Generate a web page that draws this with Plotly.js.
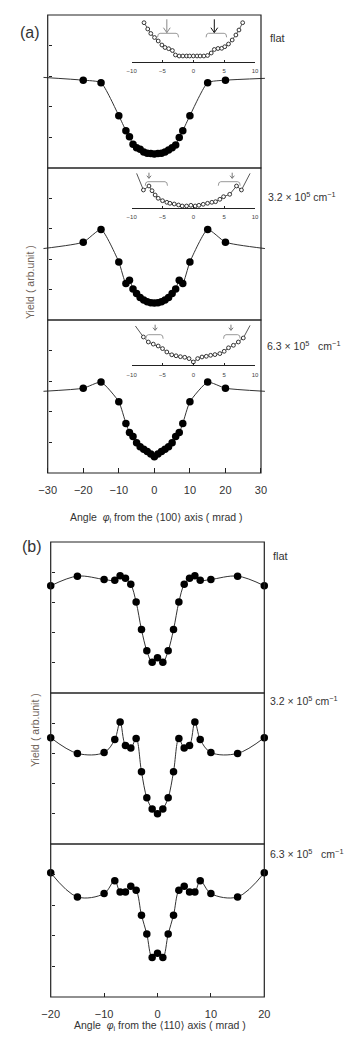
<!DOCTYPE html>
<html><head><meta charset="utf-8">
<script src="https://cdn.plot.ly/plotly-3.0.1.min.js"></script>
<style>html,body{margin:0;padding:0;background:#fff}#chart{width:348px;height:1044px}</style>
</head><body><div id="chart"></div>
<script>
// ---------- DATA ----------
// Panel (a): yield vs angle from <100> axis (mrad)
const aX = [-20,-15,-10,-8,-7,-6,-5,-4,-3,-2,-1,0,1,2,3,4,5,6,7,8,10,15,20];
const aFlatY = [2.87,2.79,1.71,1.22,1.02,0.78,0.66,0.61,0.52,0.48,0.47,0.46,0.47,0.48,0.52,0.59,0.66,0.75,1.0,1.22,1.71,2.79,2.87];
const a32Y   = [2.56,2.98,1.91,1.20,1.31,1.02,0.87,0.74,0.66,0.60,0.57,0.56,0.57,0.60,0.66,0.74,0.87,1.02,1.31,1.20,1.91,2.98,2.56];
const a63Y   = [2.77,2.97,2.33,1.62,1.32,1.19,0.99,0.86,0.78,0.70,0.62,0.53,0.62,0.70,0.78,0.86,0.99,1.19,1.32,1.62,2.33,2.97,2.77];
const aEndX = [-31.2, 31.1];
const aFlatEndY = [2.96, 2.93];
const a32EndY = [2.35, 2.35];
const a63EndY = [2.67, 2.67];

// Panel (b): yield vs angle from <110> axis (mrad)
const bX = [-20,-15,-10,-8,-7,-6,-5,-4,-3,-2,-1,0,1,2,3,4,5,6,7,8,10,15,20];
const bFlatY = [3.55,3.87,3.76,3.73,3.88,3.80,3.60,3.01,2.10,1.40,1.02,1.17,1.02,1.40,2.10,3.01,3.60,3.80,3.88,3.73,3.76,3.87,3.55];
const b32Y   = [3.52,3.00,3.03,3.46,4.04,3.26,3.18,3.49,2.39,1.53,1.16,1.00,1.16,1.53,2.39,3.49,3.18,3.26,4.04,3.46,3.03,3.00,3.52];
const b63Y   = [4.06,3.27,3.38,3.80,3.43,3.43,3.62,3.49,2.67,2.06,1.29,1.43,1.29,2.06,2.67,3.49,3.62,3.43,3.43,3.80,3.38,3.27,4.06];

// Insets of panel (a)
const in1X = [-8.0,-7.4,-6.9,-6.3,-5.7,-5.1,-4.6,-4.0,-3.4,-2.9,-2.3,-1.7,-1.1,-0.6,0,0.6,1.1,1.7,2.3,2.9,3.4,4.0,4.6,5.1,5.7,6.3,6.9,7.4,8.0];
const in1Y = [39,32.7,28.2,24.2,20.7,16.7,14.2,13,11.2,6.7,5.7,5.7,5.7,5.7,5.7,5.7,5.7,5.7,6.2,8.7,12.2,13.2,13.4,15,17.7,21.7,26.7,31.7,39];
const in2X = [-8.1,-7.2,-6.7,-6.2,-5.7,-5.0,-4.3,-3.8,-3.1,-2.4,-1.8,-1.1,-0.4,0.3,0.9,1.6,2.3,3.0,3.6,4.3,4.9,5.9,7.0,7.8];
const in2Y = [17.7,21.7,17,12.7,9.4,7,5.4,4.4,3.7,2.7,1.7,1.7,2.4,1.7,2.4,3.4,4.4,5.4,6,8.4,11,13.4,21.7,17.7];
const in2EndX = [-9.2, 9.2];
const in2EndY = [34.3, 34.3];
const in3X = [-8.1,-7.3,-6.5,-5.7,-5.0,-4.3,-3.5,-2.8,-2.1,-1.4,-0.7,0,0.7,1.4,2.1,2.8,3.5,4.3,5.0,5.7,6.5,7.3,8.1];
const in3Y = [28.3,23.3,21.2,19.3,16.7,13.3,10.5,9.5,8.6,8,6.7,3.3,6.7,8.3,9,10,10.7,11.7,14,17.5,20,23.3,27.3];
const in3EndX = [-9.4, 9.2];
const in3EndY = [39.3, 39.9];
const insetTicks = [-10,-5,0,5,10];

// Arrow and bracket positions in the insets (inset x units)
const in1Arrows = [-4.3, 3.4];
const in1Brackets = [[-5.8,-2.4],[2.06,5.4]];
const in2Arrows = [-7.2, 6.3];
const in2Brackets = [[-7.8,-4.2],[4.05,7.6]];
const in3Arrows = [-6.2, 6.1];
const in3Brackets = [[-7.7,-4.9],[4.9,7.6]];

const aTicks = [-30,-20,-10,0,10,20,30];
const bTicks = [-20,-10,0,10,20];
const yTicks = [1,2,3,4];
const labels = ['flat','3.2 × 10<sup>5</sup> cm<sup>−1</sup>','6.3 × 10<sup>5</sup>   cm<sup>−1</sup>'];
const LB = '<span style="font-family:DejaVu Sans">⟨</span>';
const RB = '<span style="font-family:DejaVu Sans">⟩</span>';
const xTitles = ['Angle  <i>φ</i><sub>i</sub> from the ' + LB + '100' + RB + ' axis ( mrad )',
                 'Angle  <i>φ</i><sub>i</sub> from the ' + LB + '110' + RB + ' axis ( mrad )'];
const yTitle = 'Yield ( arb.unit )';

// ---------- LAYOUT HELPERS ----------
const W = 348, H = 1044;
const px = p => p / W;
const py = p => 1 - p / H;
const FONT = 'Liberation Sans, Arial, sans-serif';
const INK = '#222';

const traces = [];
function mainTraces(xs, ys, endX, endY, xa, ya, smooth) {
  let lx = xs, ly = ys;
  if (endX) { lx = [endX[0]].concat(xs, [endX[1]]); ly = [endY[0]].concat(ys, [endY[1]]); }
  traces.push({x: lx, y: ly, xaxis: xa, yaxis: ya, mode: 'lines', line: {color: '#333', width: 1, shape: 'spline', smoothing: smooth}, hoverinfo: 'skip', showlegend: false});
  traces.push({x: xs, y: ys, xaxis: xa, yaxis: ya, mode: 'markers', marker: {color: '#000', size: 7.5}, cliponaxis: false, showlegend: false});
}
mainTraces(aX, aFlatY, aEndX, aFlatEndY, 'x', 'y', 0.5);
mainTraces(aX, a32Y, aEndX, a32EndY, 'x', 'y2', 0.5);
mainTraces(aX, a63Y, aEndX, a63EndY, 'x', 'y3', 0.5);
mainTraces(bX, bFlatY, null, null, 'x2', 'y4', 1);
mainTraces(bX, b32Y, null, null, 'x2', 'y5', 1);
mainTraces(bX, b63Y, null, null, 'x2', 'y6', 1);

function insetTraces(xs, ys, endX, endY, xa, ya) {
  let lx = xs, ly = ys;
  if (endX) { lx = [endX[0]].concat(xs, [endX[1]]); ly = [endY[0]].concat(ys, [endY[1]]); }
  traces.push({x: lx, y: ly, xaxis: xa, yaxis: ya, mode: 'lines', line: {color: '#444', width: 0.9}, hoverinfo: 'skip', showlegend: false});
  traces.push({x: xs, y: ys, xaxis: xa, yaxis: ya, mode: 'markers', marker: {color: '#fff', size: 3.8, line: {color: '#333', width: 1}}, cliponaxis: false, showlegend: false});
}
insetTraces(in1X, in1Y, null, null, 'x3', 'y7');
insetTraces(in2X, in2Y, in2EndX, in2EndY, 'x4', 'y8');
insetTraces(in3X, in3Y, in3EndX, in3EndY, 'x5', 'y9');

// panel geometry (pixels)
const aL = 47.7, aR = 261, a0 = 154.35, aScale = 3.555;
const aPanels = [[15,168],[168,320],[320,473]];
const bL = 50.7, bR = 264.3;
const bPanels = [[542,693],[693,844],[844,997]];
const insetL = 131.7, insetR = 255;
const insets = [[17,61.7],[170,207.7],[322,365.3]];

const layout = {
  width: W, height: H, margin: {l:0, r:0, t:0, b:0},
  paper_bgcolor: '#fff', plot_bgcolor: 'rgba(0,0,0,0)',
  font: {family: FONT, color: '#333'},
  showlegend: false,
  xaxis: {domain: [px(a0 - 31.3*aScale), px(a0 + 31.3*aScale)], range: [-31.3, 31.3], anchor: 'y3',
          tickvals: aTicks, ticks: 'inside', ticklen: 5, tickcolor: INK, tickwidth: 1,
          showline: false, showgrid: false, zeroline: false, tickfont: {size: 11, color: '#333'}, ticklabelstandoff: 9},
  xaxis2: {domain: [px(bL), px(bR)], range: [-20, 20], anchor: 'y6',
          tickvals: bTicks, ticks: 'inside', ticklen: 4, tickcolor: INK, tickwidth: 1,
          showline: false, showgrid: false, zeroline: false, tickfont: {size: 11, color: '#333'}, ticklabelstandoff: 9},
  shapes: [], annotations: []
};
const yNames = ['yaxis','yaxis2','yaxis3','yaxis4','yaxis5','yaxis6'];
aPanels.concat(bPanels).forEach((p, i) => {
  const isA = i < 3;
  layout[yNames[i]] = {domain: [py(p[1]), py(p[0])], range: [0, 5], anchor: 'free', position: px(isA ? aL : bL),
    tickvals: yTicks, ticks: 'inside', ticklen: 3, tickcolor: INK, showticklabels: false,
    showline: false, showgrid: false, zeroline: false};
  layout.shapes.push({type: 'rect', xref: 'paper', yref: 'paper', x0: px(isA ? aL : bL), x1: px(isA ? aR : bR),
    y0: py(p[1]), y1: py(p[0]), line: {color: INK, width: 1.2}});
});
const insetArrows = [in1Arrows, in2Arrows, in3Arrows];
const insetBrackets = [in1Brackets, in2Brackets, in3Brackets];
insets.forEach((p, i) => {
  const xa = 'xaxis' + (3 + i), ya = 'yaxis' + (7 + i);
  const xr = 'x' + (3 + i), yr = 'y' + (7 + i);
  const top = p[1] - p[0];
  layout[xa] = {domain: [px(insetL), px(insetR)], range: [-10, 10], anchor: yr,
    tickvals: insetTicks, ticks: 'inside', ticklen: 2, tickcolor: INK, showline: true, linecolor: INK, linewidth: 1,
    showgrid: false, zeroline: false, tickfont: {size: 6, color: '#444'}, ticklabelstandoff: 3};
  layout[ya] = {domain: [py(p[1]), py(p[0])], range: [0, top], anchor: xr, visible: false};
  const big = i === 0;
  insetArrows[i].forEach((ax, k) => {
    const yTop = big ? top - 2.3 : top - 2.7;
    const yBot = big ? top - 15.7 : top - 8.3;
    const hw = big ? 0.55 : 0.35, hh = big ? 5 : 2.6;
    const col = big ? (k === 0 ? '#888' : '#111') : '#777';
    layout.shapes.push({type: 'path', xref: xr, yref: yr,
      path: `M ${ax},${yTop} L ${ax},${yBot} M ${ax-hw},${yBot+hh} L ${ax},${yBot} L ${ax+hw},${yBot+hh}`,
      line: {color: col, width: 1}});
  });
  insetBrackets[i].forEach(b => {
    const yT = big ? top - 16.3 : (i === 1 ? top - 11.7 : top - 12.7);
    const yE = yT - 4;
    layout.shapes.push({type: 'path', xref: xr, yref: yr,
      path: `M ${b[0]},${yE} Q ${b[0]},${yT} ${b[0]+0.4},${yT} L ${b[1]-0.4},${yT} Q ${b[1]},${yT} ${b[1]},${yE}`,
      line: {color: '#999', width: 1}});
  });
});

function ann(text, x, y, opts) {
  layout.annotations.push(Object.assign({text: text, x: px(x), y: py(y), xref: 'paper', yref: 'paper',
    showarrow: false, font: {family: FONT, size: 11, color: '#333'}}, opts || {}));
}
const smallF = {family: FONT, size: 10.5, color: '#333'};
ann('(a)', 18, 22, {font: {family: FONT, size: 16, color: '#333'}});
ann('(b)', 20, 546, {font: {family: FONT, size: 16, color: '#333'}});
ann(labels[0], 268, 30, {xanchor: 'left'});
ann(labels[1], 266, 188, {xanchor: 'left', font: smallF});
ann(labels[2], 265, 337, {xanchor: 'left', font: smallF});
ann(labels[0], 271, 556, {xanchor: 'left'});
ann(labels[1], 268, 709, {xanchor: 'left', font: smallF});
ann(labels[2], 268, 862, {xanchor: 'left', font: smallF});
ann(yTitle, 22, 243, {textangle: -90, font: {family: FONT, size: 10.5, color: '#6e6258'}});
ann(yTitle, 27, 769, {textangle: -90, font: {family: FONT, size: 10.5, color: '#6e6258'}});
ann(xTitles[0], 156, 518, {font: smallF});
ann(xTitles[1], 160, 1035, {font: smallF});

Plotly.newPlot('chart', traces, layout, {staticPlot: true, displayModeBar: false});
</script></body></html>
